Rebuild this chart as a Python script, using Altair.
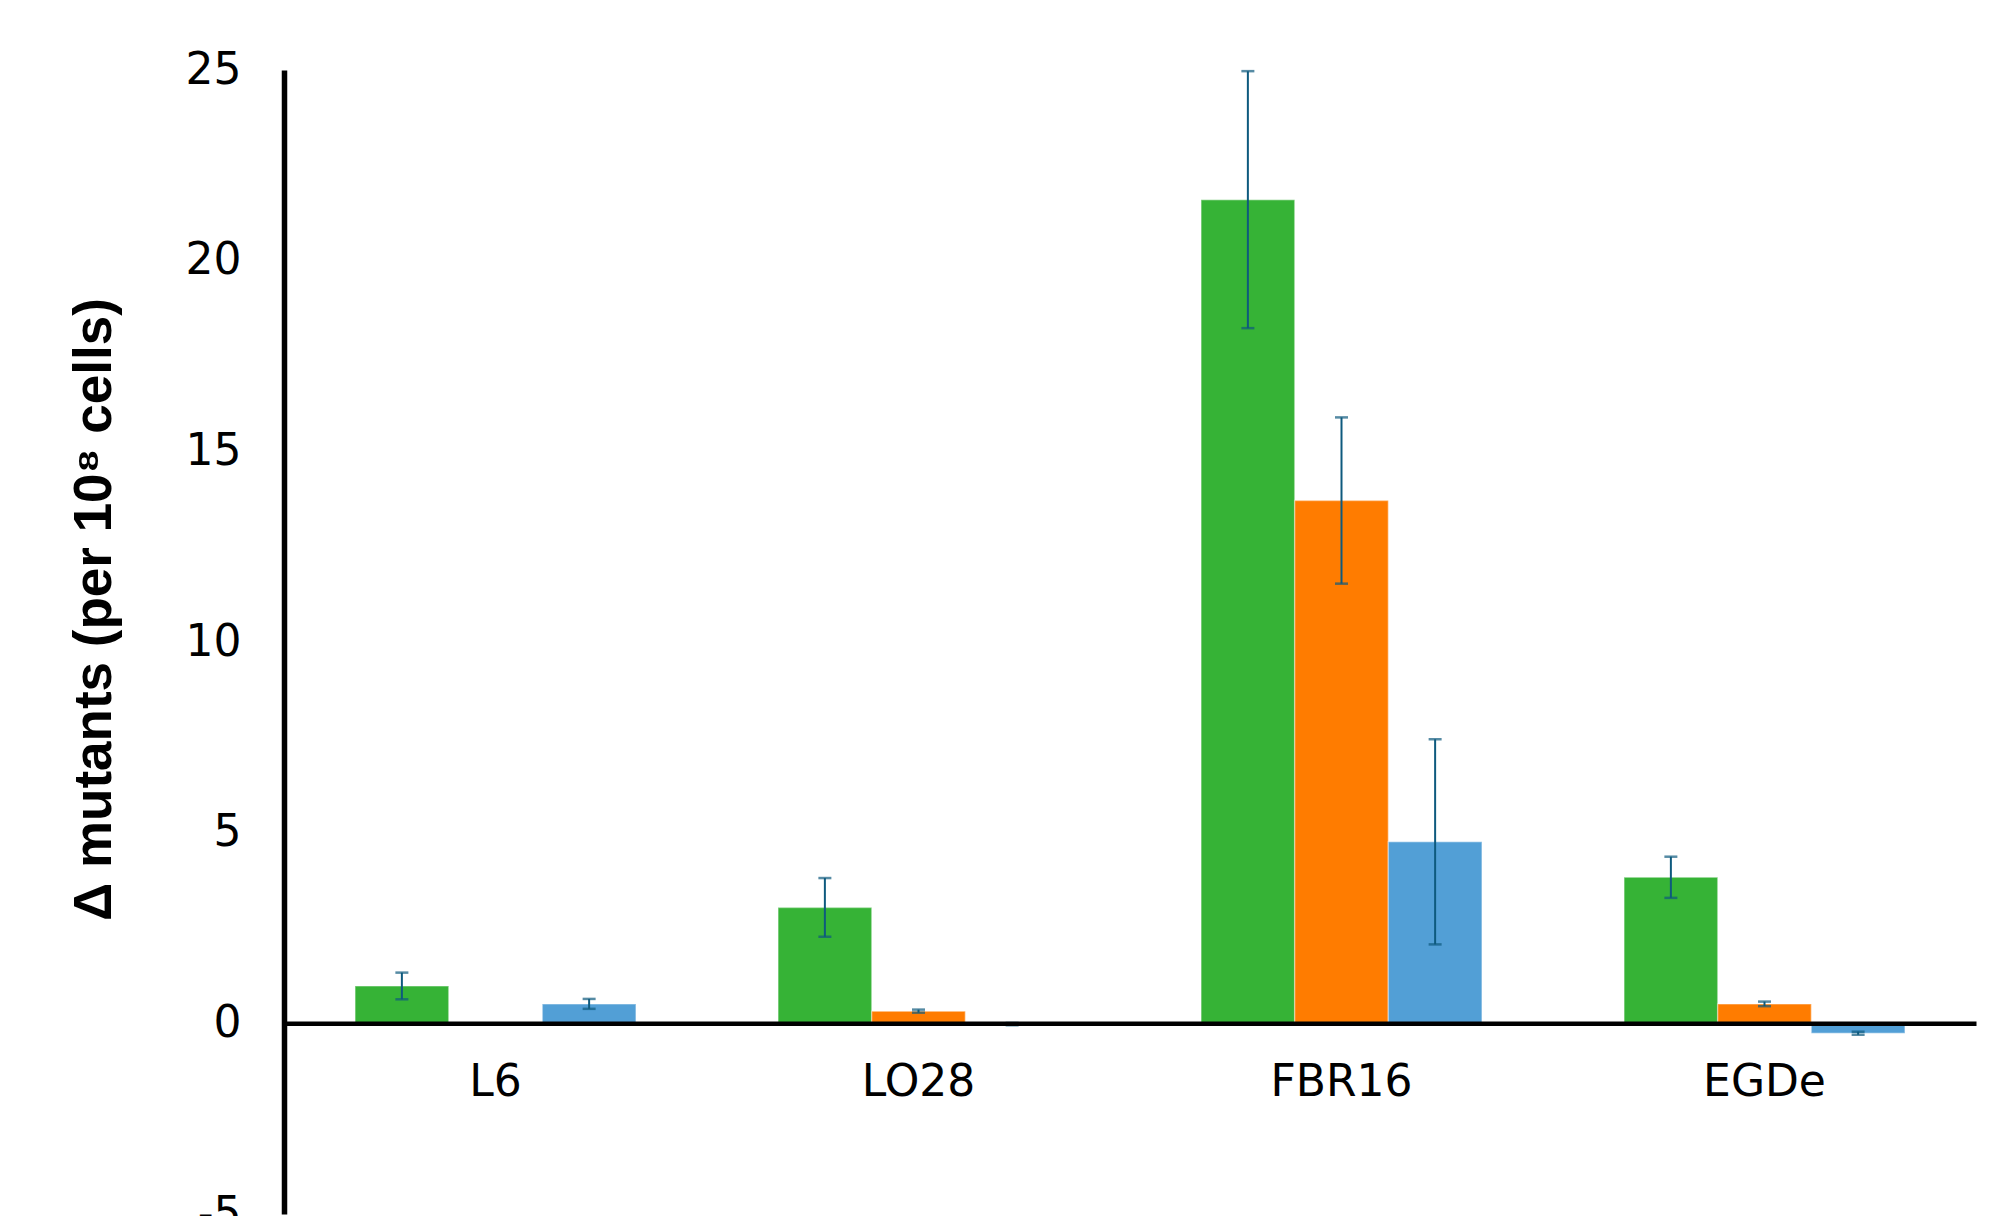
import altair as alt
import pandas as pd

# ---- data ----
strains = ["L6", "LO28", "FBR16", "EGDe"]
series = ["green", "orange", "blue"]
green_vals = [0.98, 3.04, 21.60, 3.83]
green_err = [0.35, 0.77, 3.37, 0.54]
orange_vals = [None, 0.32, 13.71, 0.51]
orange_err = [None, 0.04, 2.18, 0.06]
blue_vals = [0.51, -0.02, 4.76, -0.26]
blue_err = [0.13, 0.03, 2.69, 0.04]
series_colors = ["#36B336", "#FF7C00", "#529FD6"]
y_ticks = [-5, 0, 5, 10, 15, 20, 25]

rows = []
for s, vals, errs in [("green", green_vals, green_err),
                      ("orange", orange_vals, orange_err),
                      ("blue", blue_vals, blue_err)]:
    for st, v, e in zip(strains, vals, errs):
        if v is None:
            continue
        rows.append({"strain": st, "series": s, "value": v,
                     "lo": v - e, "hi": v + e})
df = pd.DataFrame(rows)

x_enc = alt.X("strain:N", sort=strains,
              scale=alt.Scale(paddingInner=0.336, paddingOuter=0.168),
              axis=alt.Axis(title=None, orient="bottom", offset=-190.7,
                            domainWidth=4.5, domainColor="black",
                            ticks=False, tickSize=0, labelPadding=37,
                            labelFontSize=44, labelFont="DejaVu Sans",
                            labelColor="black", labelAngle=0, zindex=1))
xo_enc = alt.XOffset("series:N", sort=series,
                     scale=alt.Scale(paddingInner=0, paddingOuter=0))
y_scale = alt.Scale(domain=[-5, 25], nice=False, zero=False)

bars = alt.Chart(df).mark_bar(stroke="white", strokeOpacity=0.35,
                              strokeWidth=1.5).encode(
    x=x_enc,
    xOffset=xo_enc,
    y=alt.Y("value:Q", scale=y_scale,
            axis=alt.Axis(values=y_ticks, title="Δ mutants (per 10⁸ cells)",
                          labelExpr="'' + datum.value",
                          grid=False, ticks=False, tickSize=0,
                          labelPadding=43, domainColor="black",
                          domainWidth=5.5, labelFontSize=44,
                          labelFont="DejaVu Sans", labelColor="black",
                          titleFont="Liberation Sans", titleFontSize=53,
                          titleFontWeight="bold", titleAngle=270,
                          titleX=-174, titleY=539, titleAlign="center",
                          titleBaseline="alphabetic", titleColor="black")),
    y2=alt.datum(0),
    color=alt.Color("series:N", sort=series,
                    scale=alt.Scale(domain=series, range=series_colors),
                    legend=None),
)

err_color = "#0E5A7E"
rules = alt.Chart(df).mark_rule(color=err_color, strokeWidth=2).encode(
    x=alt.X("strain:N", sort=strains), xOffset=alt.XOffset("series:N", sort=series),
    y=alt.Y("lo:Q", scale=y_scale), y2="hi:Q")
caps_lo = alt.Chart(df).mark_tick(color=err_color, size=13, thickness=2.5,
                                  orient="horizontal").encode(
    x=alt.X("strain:N", sort=strains), xOffset=alt.XOffset("series:N", sort=series),
    y=alt.Y("lo:Q", scale=y_scale))
caps_hi = alt.Chart(df).mark_tick(color=err_color, size=13, thickness=2.5,
                                  orient="horizontal").encode(
    x=alt.X("strain:N", sort=strains), xOffset=alt.XOffset("series:N", sort=series),
    y=alt.Y("hi:Q", scale=y_scale))

chart = alt.layer(bars, rules, caps_lo, caps_hi).properties(
    width=1692, height=1144,
    autosize=alt.AutoSizeParams(type="none"),
    padding={"left": 276, "top": 62, "right": 10, "bottom": 2},
).configure_view(stroke=None)

chart.save("out.html", embed_options={"renderer": "svg", "actions": False})
